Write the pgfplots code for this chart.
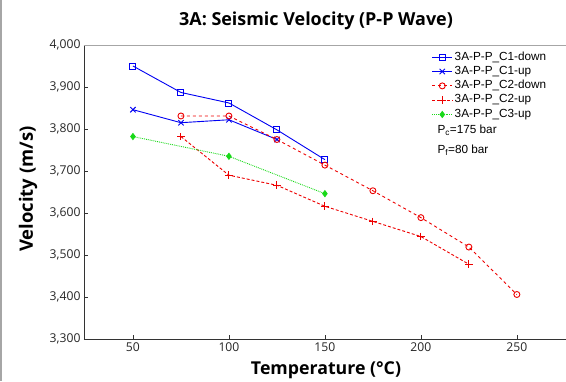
\documentclass[border=0pt]{standalone}
\usepackage{fontspec}
\setmainfont{Open Sans}
\newfontfamily\legfont{Liberation Sans}
\usepackage{pgfplots}
\pgfplotsset{compat=1.18}
\definecolor{cblue}{rgb}{0,0,0.95}
\definecolor{cred}{rgb}{0.93,0,0}
\definecolor{cgreen}{rgb}{0.1,0.85,0.1}
\begin{document}
\begin{tikzpicture}[x=1bp,y=1bp]
\useasboundingbox (-84,-42) rectangle (482,339);
\draw[gray!70, line width=1.2bp] (-83,-42) -- (-83,339);
\begin{axis}[
  at={(0,0)}, anchor=south west,
  width=482bp, height=294bp, scale only axis,
  xmin=24.5, xmax=275.6, ymin=3300, ymax=4000,
  axis x line*=bottom, axis y line*=left,
  axis line style={-, black!80, line width=0.9bp},
  tick align=inside, major tick length=4bp,
  tick style={black!80, line width=0.7bp},
  xtick={50,100,150,200,250},
  ytick={3300,3400,3500,3600,3700,3800,3900,4000},
  /pgf/number format/1000 sep={,},
  /pgf/number format/assume math mode=true,
  tick label style={font=\fontsize{12.2}{14}\selectfont, color=black!85},
  legend cell align=left,
  legend image code/.code={\draw[mark repeat=2,mark phase=2,#1] plot coordinates {(0bp,0bp) (10bp,0bp) (20bp,0bp)};},
  legend style={at={(0.715,0.99)}, anchor=north west, draw=none, fill=none,
    font=\legfont\fontsize{11.8}{13}\selectfont,
    nodes={inner ysep=1.9bp, text height=8bp, text depth=2.5bp}},
]
\draw[gray!70, line width=1bp] (rel axis cs:0,1) -- (rel axis cs:1,1);
\addplot[cblue, line width=0.9bp, mark=square, mark size=3bp, mark options={solid, cblue}] coordinates {
(50,3950) (75,3887) (100,3862) (125,3798) (150,3727)};
\addlegendentry{3A-P-P\_C1-down}
\addplot[cblue, line width=0.9bp, mark=x, mark size=3.8bp, mark options={solid, cblue}] coordinates {
(50,3846) (75,3815) (100,3822) (125,3775)};
\addlegendentry{3A-P-P\_C1-up}
\addplot[cred, line width=0.9bp, dashed, mark=o, mark size=3bp, mark options={solid, cred}] coordinates {
(75,3831) (100,3831) (125,3775) (150,3714) (175,3653) (200,3589) (225,3519) (250,3406)};
\addlegendentry{3A-P-P\_C2-down}
\addplot[cred, line width=0.9bp, densely dashed, mark=+, mark size=3.8bp, mark options={solid, cred}] coordinates {
(75,3782) (100,3690) (125,3666) (150,3616) (175,3580) (200,3544) (225,3478)};
\addlegendentry{3A-P-P\_C2-up}
\addplot[cgreen, line width=0.9bp, densely dotted, mark=diamond*, mark size=3bp, mark options={solid, cgreen}] coordinates {
(50,3782) (100,3735) (150,3646)};
\addlegendentry{3A-P-P\_C3-up}
\end{axis}
\node[anchor=west, font=\legfont\fontsize{11.8}{13}\selectfont] at (350,209) {P\textsubscript{c}=175 bar};
\node[anchor=west, font=\legfont\fontsize{11.8}{13}\selectfont] at (350,189) {P\textsubscript{f}=80 bar};
\node[font=\bfseries\fontsize{18}{20}\selectfont] at (232,318) {3A: Seismic Velocity (P-P Wave)};
\node[font=\bfseries\fontsize{17.8}{20}\selectfont] at (242,-31) {Temperature (°C)};
\node[font=\bfseries\fontsize{18.5}{20}\selectfont, rotate=90] at (-56,150) {Velocity (m/s)};
\end{tikzpicture}
\end{document}
